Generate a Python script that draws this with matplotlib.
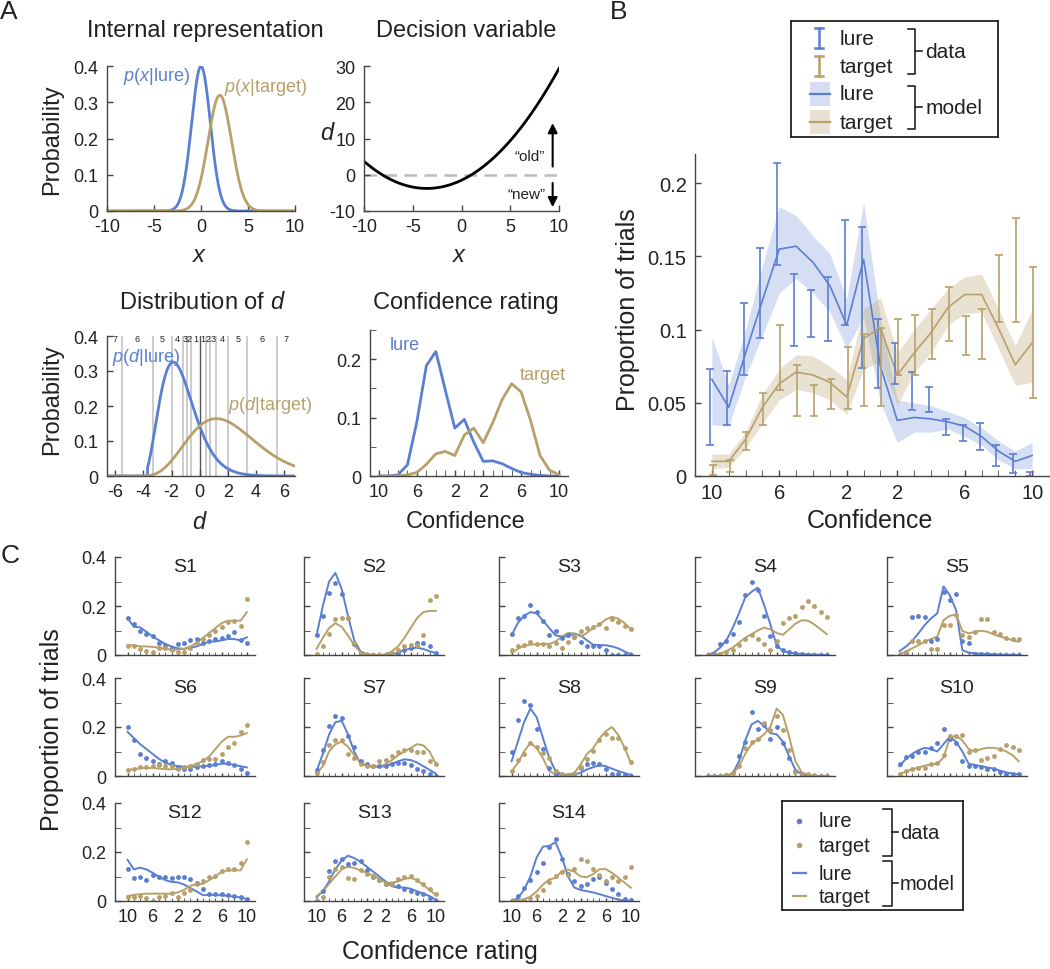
import matplotlib
matplotlib.use('Agg')
import matplotlib.pyplot as plt
import numpy as np

plt.rcParams['font.family'] = 'Liberation Sans'
plt.rcParams['mathtext.fontset'] = 'custom'
plt.rcParams['mathtext.it'] = 'Liberation Sans:italic'
plt.rcParams['mathtext.rm'] = 'Liberation Sans'
plt.rcParams['axes.unicode_minus'] = False

BLUE = '#5b7fd0'
TAN = '#b8a06a'
AXC = '#444444'
TXT = '#222222'

# ---- panel A: generative model parameters
lure_mu, lure_sd = 0.0, 1.0
target_mu, target_sd = 2.0, 1.25
d_thresholds = [-5.5, -3.35, -1.95, -1.2, -0.9, -0.6, 0.0, 0.45, 0.75, 1.15, 2.05, 3.4, 5.5]
d_bin_labels = ['7', '6', '5', '4', '3', '2', '1', '1', '2', '3', '4', '5', '6', '7']

# confidence bins: 10..1 "new" then 1..10 "old"
conf_pos = np.arange(1, 21)
conf_tick_pos = [1, 5, 9, 12, 16, 20]
conf_tick_labels = ['10', '6', '2', '2', '6', '10']

a_conf_lure = [0.0, 0.0, 0.002, 0.019, 0.093, 0.189, 0.213, 0.147, 0.082, 0.097,
               0.058, 0.025, 0.026, 0.021, 0.013, 0.006, 0.003, 0.001, 0.0, 0.0]
a_conf_target = [0.0, 0.0, 0.0, 0.002, 0.006, 0.02, 0.038, 0.042, 0.035, 0.07,
                 0.082, 0.057, 0.091, 0.131, 0.158, 0.144, 0.095, 0.035, 0.01, 0.002]

# ---- panel B: group data (error bars) and model (mean line, band)
b_lure_lo = [0.021, 0.035, 0.069, 0.094, 0.144, 0.089, 0.095, 0.092, 0.103, 0.074,
             0.060, 0.063, 0.045, 0.044, 0.028, 0.024, 0.018, 0.007, 0.002, 0.000]
b_lure_hi = [0.073, 0.072, 0.118, 0.156, 0.214, 0.138, 0.127, 0.136, 0.175, 0.170,
             0.107, 0.091, 0.071, 0.061, 0.039, 0.035, 0.036, 0.021, 0.015, 0.003]
b_target_lo = [0.001, 0.003, 0.018, 0.035, 0.059, 0.041, 0.041, 0.046, 0.046, 0.048,
               0.048, 0.069, 0.069, 0.080, 0.092, 0.083, 0.080, 0.105, 0.105, 0.053]
b_target_hi = [0.0075, 0.011, 0.030, 0.057, 0.103, 0.076, 0.062, 0.066, 0.088, 0.097,
               0.101, 0.107, 0.110, 0.114, 0.129, 0.109, 0.114, 0.151, 0.176, 0.143]
b_lure_model = [0.066, 0.047, 0.084, 0.120, 0.155, 0.157, 0.146, 0.130, 0.103, 0.148,
                0.075, 0.038, 0.040, 0.039, 0.037, 0.034, 0.027, 0.017, 0.010, 0.014]
b_lure_band_lo = [0.035, 0.034, 0.068, 0.096, 0.125, 0.135, 0.125, 0.112, 0.087, 0.109,
                  0.050, 0.023, 0.030, 0.030, 0.032, 0.027, 0.021, 0.011, 0.005, 0.005]
b_lure_band_hi = [0.095, 0.062, 0.100, 0.144, 0.184, 0.178, 0.164, 0.152, 0.121, 0.187,
                  0.107, 0.052, 0.050, 0.048, 0.044, 0.040, 0.033, 0.024, 0.017, 0.023]
b_target_model = [0.010, 0.010, 0.025, 0.047, 0.063, 0.071, 0.069, 0.064, 0.054, 0.094,
                  0.101, 0.069, 0.084, 0.098, 0.115, 0.124, 0.124, 0.101, 0.076, 0.091]
b_target_band_lo = [0.005, 0.006, 0.019, 0.036, 0.052, 0.059, 0.057, 0.052, 0.042, 0.073,
                    0.078, 0.048, 0.071, 0.084, 0.103, 0.111, 0.112, 0.087, 0.062, 0.064]
b_target_band_hi = [0.015, 0.015, 0.030, 0.056, 0.073, 0.083, 0.082, 0.075, 0.066, 0.114,
                    0.122, 0.084, 0.100, 0.114, 0.128, 0.136, 0.138, 0.114, 0.089, 0.114]

# ---- panel C: individual subjects
c_names = ['S1', 'S2', 'S3', 'S4', 'S5', 'S6', 'S7', 'S8', 'S9', 'S10', 'S12', 'S13', 'S14']
c_lure_data = [
    [0.15, 0.125, 0.097, 0.086, 0.078, 0.05, 0.04, 0.027, 0.045, 0.047, 0.062, 0.065, 0.047, 0.057, 0.065, 0.068, 0.077, 0.092, 0.06, 0.05],
    [0.08, 0.16, 0.255, 0.295, 0.25, 0.15, 0.045, 0.01, 0.0, 0.0, 0.0, 0.0, 0.005, 0.01, 0.02, 0.03, 0.05, 0.05, 0.035, 0.01],
    [0.085, 0.15, 0.16, 0.205, 0.175, 0.14, 0.08, 0.1, 0.068, 0.08, 0.075, 0.055, 0.038, 0.038, 0.038, 0.02, 0.0, 0.0, 0.0, 0.0],
    [0.0, 0.005, 0.045, 0.057, 0.087, 0.136, 0.244, 0.296, 0.264, 0.16, 0.077, 0.038, 0.02, 0.014, 0.007, 0.003, 0.002, 0.0, 0.0, 0.0],
    [0.0, 0.01, 0.155, 0.16, 0.155, 0.057, 0.065, 0.258, 0.225, 0.25, 0.057, 0.047, 0.003, 0.003, 0.003, 0.002, 0.002, 0.0, 0.0, 0.0],
    [0.2, 0.145, 0.09, 0.075, 0.06, 0.05, 0.06, 0.055, 0.035, 0.03, 0.03, 0.035, 0.04, 0.045, 0.05, 0.06, 0.055, 0.045, 0.028, 0.013],
    [0.025, 0.105, 0.205, 0.245, 0.235, 0.165, 0.12, 0.06, 0.047, 0.04, 0.04, 0.04, 0.047, 0.053, 0.053, 0.045, 0.03, 0.02, 0.007, 0.0],
    [0.1, 0.23, 0.305, 0.29, 0.19, 0.11, 0.033, 0.007, 0.005, 0.003, 0.01, 0.033, 0.05, 0.053, 0.047, 0.03, 0.01, 0.007, 0.003, 0.0],
    [0.0, 0.0, 0.0, 0.005, 0.013, 0.08, 0.14, 0.263, 0.193, 0.207, 0.153, 0.2, 0.133, 0.073, 0.02, 0.007, 0.002, 0.0, 0.0, 0.0],
    [0.047, 0.076, 0.08, 0.096, 0.1, 0.116, 0.133, 0.193, 0.151, 0.136, 0.06, 0.04, 0.04, 0.035, 0.03, 0.027, 0.016, 0.01, 0.007, 0.007],
    [0.132, 0.094, 0.1, 0.085, 0.105, 0.1, 0.1, 0.094, 0.097, 0.097, 0.09, 0.075, 0.05, 0.03, 0.028, 0.028, 0.025, 0.021, 0.015, 0.008],
    [0.0, 0.04, 0.122, 0.165, 0.172, 0.15, 0.157, 0.164, 0.125, 0.1, 0.085, 0.069, 0.069, 0.062, 0.05, 0.042, 0.032, 0.028, 0.014, 0.0],
    [0.0, 0.02, 0.053, 0.085, 0.118, 0.157, 0.22, 0.255, 0.17, 0.11, 0.08, 0.06, 0.068, 0.088, 0.1, 0.073, 0.05, 0.027, 0.01, 0.003],
]
c_target_data = [
    [0.038, 0.038, 0.024, 0.016, 0.014, 0.027, 0.027, 0.02, 0.014, 0.014, 0.03, 0.047, 0.065, 0.08, 0.1, 0.115, 0.135, 0.14, 0.12, 0.23],
    [0.005, 0.035, 0.085, 0.145, 0.15, 0.15, 0.05, 0.01, 0.0, 0.0, 0.0, 0.0, 0.01, 0.02, 0.035, 0.04, 0.04, 0.08, 0.225, 0.24],
    [0.02, 0.035, 0.04, 0.052, 0.045, 0.045, 0.035, 0.047, 0.028, 0.055, 0.072, 0.098, 0.112, 0.115, 0.128, 0.112, 0.145, 0.133, 0.12, 0.108],
    [0.0, 0.0, 0.005, 0.012, 0.02, 0.04, 0.065, 0.08, 0.065, 0.045, 0.02, 0.058, 0.13, 0.15, 0.16, 0.195, 0.222, 0.2, 0.175, 0.155],
    [0.0, 0.014, 0.057, 0.057, 0.057, 0.024, 0.024, 0.122, 0.122, 0.165, 0.081, 0.075, 0.095, 0.145, 0.145, 0.095, 0.084, 0.07, 0.064, 0.064],
    [0.025, 0.028, 0.035, 0.035, 0.04, 0.045, 0.04, 0.04, 0.03, 0.035, 0.04, 0.05, 0.065, 0.07, 0.07, 0.09, 0.12, 0.135, 0.18, 0.21],
    [0.013, 0.057, 0.125, 0.145, 0.145, 0.09, 0.073, 0.047, 0.04, 0.04, 0.06, 0.067, 0.08, 0.1, 0.107, 0.107, 0.1, 0.1, 0.06, 0.047],
    [0.02, 0.067, 0.09, 0.133, 0.12, 0.093, 0.073, 0.02, 0.007, 0.005, 0.01, 0.036, 0.07, 0.103, 0.147, 0.17, 0.156, 0.156, 0.116, 0.057],
    [0.0, 0.0, 0.0, 0.005, 0.013, 0.04, 0.116, 0.14, 0.153, 0.215, 0.187, 0.245, 0.187, 0.107, 0.016, 0.007, 0.007, 0.003, 0.0, 0.0],
    [0.007, 0.02, 0.027, 0.033, 0.033, 0.047, 0.053, 0.087, 0.163, 0.163, 0.167, 0.1, 0.107, 0.064, 0.073, 0.08, 0.11, 0.127, 0.12, 0.107],
    [0.015, 0.015, 0.021, 0.011, 0.0, 0.015, 0.021, 0.032, 0.018, 0.032, 0.045, 0.069, 0.08, 0.099, 0.104, 0.122, 0.129, 0.13, 0.154, 0.24],
    [0.0, 0.018, 0.099, 0.129, 0.14, 0.094, 0.09, 0.125, 0.112, 0.104, 0.085, 0.069, 0.069, 0.09, 0.1, 0.104, 0.085, 0.069, 0.049, 0.028],
    [0.0, 0.0, 0.004, 0.011, 0.021, 0.046, 0.076, 0.104, 0.118, 0.105, 0.13, 0.173, 0.163, 0.13, 0.108, 0.082, 0.1, 0.08, 0.1, 0.14],
]
c_lure_model = [
    [0.15, 0.115, 0.113, 0.095, 0.075, 0.06, 0.045, 0.035, 0.027, 0.025, 0.03, 0.035, 0.045, 0.055, 0.055, 0.06, 0.065, 0.065, 0.06, 0.072],
    [0.08, 0.2, 0.3, 0.335, 0.27, 0.16, 0.06, 0.015, 0.003, 0.0, 0.0, 0.0, 0.002, 0.01, 0.02, 0.027, 0.03, 0.025, 0.015, 0.008],
    [0.08, 0.13, 0.16, 0.175, 0.17, 0.14, 0.11, 0.08, 0.075, 0.077, 0.088, 0.08, 0.06, 0.042, 0.04, 0.04, 0.035, 0.027, 0.014, 0.003],
    [0.0, 0.01, 0.03, 0.06, 0.11, 0.17, 0.235, 0.258, 0.275, 0.205, 0.125, 0.04, 0.016, 0.01, 0.006, 0.004, 0.003, 0.002, 0.001, 0.0],
    [0.016, 0.034, 0.057, 0.088, 0.122, 0.149, 0.17, 0.28, 0.244, 0.183, 0.02, 0.01, 0.007, 0.005, 0.004, 0.003, 0.002, 0.001, 0.001, 0.0],
    [0.18, 0.155, 0.13, 0.11, 0.09, 0.07, 0.055, 0.045, 0.04, 0.038, 0.038, 0.038, 0.04, 0.042, 0.045, 0.05, 0.05, 0.045, 0.04, 0.035],
    [0.02, 0.09, 0.17, 0.22, 0.225, 0.17, 0.1, 0.05, 0.042, 0.038, 0.038, 0.04, 0.05, 0.06, 0.068, 0.065, 0.055, 0.04, 0.025, 0.01],
    [0.06, 0.14, 0.22, 0.275, 0.24, 0.155, 0.075, 0.02, 0.007, 0.005, 0.007, 0.013, 0.027, 0.036, 0.044, 0.04, 0.03, 0.02, 0.012, 0.004],
    [0.0, 0.0, 0.0, 0.002, 0.01, 0.06, 0.145, 0.21, 0.225, 0.205, 0.175, 0.17, 0.14, 0.08, 0.025, 0.007, 0.002, 0.0, 0.0, 0.0],
    [0.04, 0.07, 0.09, 0.105, 0.115, 0.11, 0.1, 0.13, 0.16, 0.14, 0.1, 0.05, 0.045, 0.04, 0.035, 0.03, 0.022, 0.015, 0.01, 0.006],
    [0.168, 0.129, 0.136, 0.129, 0.115, 0.099, 0.085, 0.078, 0.076, 0.067, 0.053, 0.039, 0.024, 0.024, 0.025, 0.023, 0.021, 0.018, 0.014, 0.008],
    [0.015, 0.04, 0.08, 0.13, 0.165, 0.185, 0.175, 0.16, 0.14, 0.12, 0.1, 0.08, 0.06, 0.055, 0.055, 0.05, 0.04, 0.03, 0.02, 0.005],
    [0.0, 0.011, 0.046, 0.1, 0.178, 0.222, 0.225, 0.24, 0.18, 0.1, 0.055, 0.045, 0.04, 0.035, 0.028, 0.02, 0.013, 0.006, 0.002, 0.0],
]
c_target_model = [
    [0.04, 0.04, 0.035, 0.035, 0.033, 0.03, 0.025, 0.022, 0.022, 0.025, 0.035, 0.05, 0.07, 0.09, 0.11, 0.13, 0.14, 0.14, 0.14, 0.175],
    [0.025, 0.07, 0.11, 0.13, 0.115, 0.08, 0.04, 0.012, 0.003, 0.0, 0.0, 0.003, 0.015, 0.035, 0.07, 0.11, 0.15, 0.175, 0.18, 0.18],
    [0.008, 0.025, 0.038, 0.042, 0.044, 0.045, 0.045, 0.055, 0.075, 0.09, 0.088, 0.075, 0.09, 0.11, 0.125, 0.145, 0.156, 0.148, 0.13, 0.106],
    [0.0, 0.002, 0.006, 0.015, 0.03, 0.05, 0.07, 0.085, 0.1, 0.112, 0.105, 0.09, 0.082, 0.105, 0.128, 0.142, 0.14, 0.125, 0.105, 0.085],
    [0.003, 0.014, 0.027, 0.04, 0.054, 0.065, 0.075, 0.142, 0.16, 0.165, 0.098, 0.088, 0.095, 0.099, 0.095, 0.084, 0.075, 0.068, 0.06, 0.054],
    [0.025, 0.028, 0.032, 0.033, 0.033, 0.03, 0.028, 0.027, 0.03, 0.033, 0.04, 0.05, 0.06, 0.08, 0.11, 0.14, 0.16, 0.16, 0.165, 0.175],
    [0.01, 0.04, 0.1, 0.13, 0.14, 0.12, 0.085, 0.055, 0.042, 0.038, 0.04, 0.048, 0.065, 0.085, 0.1, 0.115, 0.13, 0.125, 0.1, 0.05],
    [0.02, 0.053, 0.1, 0.136, 0.113, 0.073, 0.02, 0.007, 0.004, 0.005, 0.013, 0.047, 0.09, 0.113, 0.153, 0.183, 0.2, 0.167, 0.116, 0.053],
    [0.0, 0.0, 0.0, 0.002, 0.008, 0.04, 0.09, 0.13, 0.15, 0.17, 0.2, 0.275, 0.25, 0.16, 0.06, 0.015, 0.004, 0.001, 0.0, 0.0],
    [0.007, 0.018, 0.027, 0.035, 0.042, 0.047, 0.05, 0.075, 0.155, 0.165, 0.145, 0.11, 0.1, 0.11, 0.115, 0.115, 0.11, 0.1, 0.085, 0.06],
    [0.02, 0.025, 0.028, 0.03, 0.03, 0.03, 0.03, 0.03, 0.035, 0.045, 0.062, 0.068, 0.07, 0.085, 0.1, 0.12, 0.125, 0.125, 0.125, 0.17],
    [0.02, 0.04, 0.07, 0.1, 0.13, 0.14, 0.135, 0.125, 0.115, 0.105, 0.09, 0.075, 0.075, 0.08, 0.09, 0.095, 0.085, 0.065, 0.045, 0.025],
    [0.0, 0.003, 0.007, 0.018, 0.039, 0.067, 0.088, 0.094, 0.122, 0.128, 0.12, 0.1, 0.097, 0.11, 0.13, 0.13, 0.115, 0.095, 0.075, 0.054],
]

W, H = 1050, 970
fig = plt.figure(figsize=(W / 100, H / 100), dpi=100)


def box(x0, y0, x1, y1):
    # pixel box (top-left origin) -> figure fraction rect
    return [x0 / W, 1 - y1 / H, (x1 - x0) / W, (y1 - y0) / H]


def ftext(x, y, s, **kw):
    kw.setdefault('color', TXT)
    fig.text(x / W, 1 - y / H, s, **kw)


def style(ax, size=13):
    for s in ['top', 'right']:
        ax.spines[s].set_visible(False)
    for s in ['left', 'bottom']:
        ax.spines[s].set_color(AXC)
        ax.spines[s].set_linewidth(1.0)
    ax.tick_params(direction='in', length=4, width=1, color=AXC,
                   labelcolor=TXT, labelsize=size)
    ax.tick_params(axis='y', pad=6)
    ax.tick_params(axis='x', pad=5)


def conf_axis(ax, labels=True):
    ax.set_xticks(conf_pos, minor=True)
    ax.set_xticks(conf_tick_pos)
    ax.set_xticklabels(conf_tick_labels if labels else [])
    ax.tick_params(axis='x', which='minor', direction='in', length=4, color=AXC)


def gauss(x, mu, sd):
    return np.exp(-(x - mu) ** 2 / (2 * sd ** 2)) / (sd * np.sqrt(2 * np.pi))


# decision variable d(x) = log p(x|target) - log p(x|lure) = qa x^2 + qb x + qc
qa = 1 / (2 * lure_sd ** 2) - 1 / (2 * target_sd ** 2)
qb = target_mu / target_sd ** 2 - lure_mu / lure_sd ** 2
qc = lure_mu ** 2 / (2 * lure_sd ** 2) - target_mu ** 2 / (2 * target_sd ** 2) + np.log(lure_sd / target_sd)


def p_of_d(d, mu, sd):
    disc = qb ** 2 - 4 * qa * (qc - d)
    out = np.zeros_like(d)
    ok = disc > 0.05
    r = np.sqrt(disc[ok])
    x1 = (-qb + r) / (2 * qa)
    x2 = (-qb - r) / (2 * qa)
    out[ok] = (gauss(x1, mu, sd) + gauss(x2, mu, sd)) / r
    return out


def bracket(lax, x0, x1, y0, y1):
    ym = (y0 + y1) / 2
    lax.plot([x0, x1, x1, x0], [y1, y1, y0, y0], color=TXT, lw=1.2)
    lax.plot([x1, x1 + 0.035], [ym, ym], color=TXT, lw=1.2)


def legend_axes(rect):
    lax = fig.add_axes(rect)
    lax.set_xlim(0, 1)
    lax.set_ylim(0, 1)
    lax.set_xticks([])
    lax.set_yticks([])
    for s in lax.spines.values():
        s.set_color('#222222')
        s.set_linewidth(1.3)
    return lax


# ---------------- A1: internal representation
ax = fig.add_axes(box(107, 67, 295, 212))
style(ax)
xs = np.linspace(-10, 10, 801)
ax.plot(xs, gauss(xs, lure_mu, lure_sd), color=BLUE, lw=2)
ax.plot(xs, gauss(xs, target_mu, target_sd), color=TAN, lw=2)
ax.set_xlim(-10, 10)
ax.set_ylim(0, 0.4)
ax.set_xticks([-10, -5, 0, 5, 10])
ax.set_yticks([0, 0.1, 0.2, 0.3, 0.4])
ax.set_yticklabels(['0', '0.1', '0.2', '0.3', '0.4'])
ftext(157, 77, r'$p$($x$|lure)', color=BLUE, fontsize=13, ha='center', va='center')
ftext(266, 87, r'$p$($x$|target)', color=TAN, fontsize=13, ha='center', va='center')
ftext(52, 140, 'Probability', fontsize=17, rotation=90, ha='center', va='center')
ftext(200, 256, r'$x$', fontsize=17, ha='center', va='center')
ftext(205, 31, 'Internal representation', fontsize=17, ha='center', va='center')

# ---------------- A2: decision variable
ax = fig.add_axes(box(364, 67, 559, 212))
style(ax)
ax.plot(xs, qa * xs ** 2 + qb * xs + qc, color='black', lw=2)
ax.axhline(0, color='#bbbbbb', lw=1.8, ls=(0, (5, 3)), zorder=0)
ax.annotate('', xy=(9.35, 15), xytext=(9.35, 1.5),
            arrowprops=dict(arrowstyle='-|>', color='black', lw=1.5, mutation_scale=14))
ax.annotate('', xy=(9.35, -9.7), xytext=(9.35, -1.5),
            arrowprops=dict(arrowstyle='-|>', color='black', lw=1.5, mutation_scale=14))
ax.text(8.6, 5.3, '\u201cold\u201d', fontsize=11, ha='right', va='center', color=TXT)
ax.text(8.6, -5.4, '\u201cnew\u201d', fontsize=11, ha='right', va='center', color=TXT)
ax.set_xlim(-10, 10)
ax.set_ylim(-10, 30)
ax.set_xticks([-10, -5, 0, 5, 10])
ax.set_yticks([-10, 0, 10, 20, 30])
ftext(328, 134, r'$d$', fontsize=17, ha='center', va='center')
ftext(460, 256, r'$x$', fontsize=17, ha='center', va='center')
ftext(466, 31, 'Decision variable', fontsize=17, ha='center', va='center')

# ---------------- A3: distribution of d
ax = fig.add_axes(box(107, 337, 295, 477))
style(ax)
d_lo, d_hi = -6.6, 6.8
ds = np.linspace(d_lo, d_hi, 1201)
for t in d_thresholds:
    if t == 0:
        ax.axvline(t, color='#555555', lw=1.0, zorder=0)
    else:
        ax.axvline(t, color='#c8c8c8', lw=1.3, zorder=0)
edges = [d_lo] + d_thresholds + [d_hi]
for k, lab in enumerate(d_bin_labels):
    ax.text((edges[k] + edges[k + 1]) / 2, 0.392, lab, fontsize=6.5,
            ha='center', va='center', color=TXT)
ax.plot(ds, p_of_d(ds, lure_mu, lure_sd), color=BLUE, lw=2)
ax.plot(ds, p_of_d(ds, target_mu, target_sd), color=TAN, lw=2)
ax.set_xlim(d_lo, d_hi)
ax.set_ylim(0, 0.4)
ax.set_xticks([-6, -4, -2, 0, 2, 4, 6])
ax.set_yticks([0, 0.1, 0.2, 0.3, 0.4])
ax.set_yticklabels(['0', '0.1', '0.2', '0.3', '0.4'])
ftext(146, 358, r'$p$($d$|lure)', color=BLUE, fontsize=13, ha='center', va='center')
ftext(270, 406, r'$p$($d$|target)', color=TAN, fontsize=13, ha='center', va='center')
ftext(52, 400, 'Probability', fontsize=17, rotation=90, ha='center', va='center')
ftext(200, 523, r'$d$', fontsize=17, ha='center', va='center')
ftext(202, 303, r'Distribution of $d$', fontsize=17, ha='center', va='center')

# ---------------- A4: confidence rating
ax = fig.add_axes(box(370, 331, 568, 477))
style(ax)
ax.plot(conf_pos, a_conf_lure, color=BLUE, lw=2)
ax.plot(conf_pos, a_conf_target, color=TAN, lw=2)
ax.set_xlim(0.05, 20.95)
ax.set_ylim(0, 0.25)
conf_axis(ax)
ax.set_yticks([0, 0.1, 0.2])
ax.set_yticklabels(['0', '0.1', '0.2'])
ax.set_yticks([0.05, 0.15, 0.25], minor=True)
ax.tick_params(axis='y', which='minor', direction='in', length=4, color=AXC)
ftext(405, 346, 'lure', color=BLUE, fontsize=13, ha='center', va='center')
ftext(543, 376, 'target', color=TAN, fontsize=13, ha='center', va='center')
ftext(466, 522, 'Confidence', fontsize=17, ha='center', va='center')
ftext(466, 303, 'Confidence rating', fontsize=17, ha='center', va='center')

# ---------------- B: group fit
ax = fig.add_axes(box(695, 155, 1049, 477))
style(ax, size=14.5)
ax.fill_between(conf_pos, b_lure_band_lo, b_lure_band_hi, color=BLUE, alpha=0.25, lw=0)
ax.fill_between(conf_pos, b_target_band_lo, b_target_band_hi, color=TAN, alpha=0.3, lw=0)
ax.plot(conf_pos, b_lure_model, color=BLUE, lw=1.2)
ax.plot(conf_pos, b_target_model, color=TAN, lw=1.2)
lo, hi = np.array(b_lure_lo), np.array(b_lure_hi)
mid = (lo + hi) / 2
ax.errorbar(conf_pos - 0.12, mid, yerr=[mid - lo, hi - mid], fmt='none',
            ecolor=BLUE, elinewidth=1.2, capsize=3, capthick=1.2)
lo, hi = np.array(b_target_lo), np.array(b_target_hi)
mid = (lo + hi) / 2
ax.errorbar(conf_pos + 0.05, mid, yerr=[mid - lo, hi - mid], fmt='none',
            ecolor=TAN, elinewidth=1.2, capsize=3, capthick=1.2)
ax.set_xlim(0, 21)
ax.set_ylim(0, 0.22)
conf_axis(ax)
ax.set_yticks([0, 0.05, 0.1, 0.15, 0.2])
ax.set_yticklabels(['0', '0.05', '0.1', '0.15', '0.2'])
ftext(628, 310, 'Proportion of trials', fontsize=18, rotation=90, ha='center', va='center')
ftext(870, 521, 'Confidence', fontsize=18, ha='center', va='center')

# legend for B
lax = legend_axes(box(791, 22, 998, 138))
rows = [0.853, 0.612, 0.371, 0.129]
for yy, c in zip(rows[:2], [BLUE, TAN]):
    lax.plot([0.135, 0.135], [yy - 0.09, yy + 0.09], color=c, lw=1.8)
    lax.plot([0.115, 0.155], [yy + 0.09, yy + 0.09], color=c, lw=1.8)
    lax.plot([0.115, 0.155], [yy - 0.09, yy - 0.09], color=c, lw=1.8)
for yy, c, al in zip(rows[2:], [BLUE, TAN], [0.25, 0.3]):
    lax.fill_between([0.09, 0.19], yy - 0.1, yy + 0.1, color=c, alpha=al, lw=0)
    lax.plot([0.09, 0.19], [yy, yy], color=c, lw=1.6)
for yy, s in zip(rows, ['lure', 'target', 'lure', 'target']):
    lax.text(0.237, yy, s, fontsize=15, va='center', ha='left', color=TXT)
bracket(lax, 0.565, 0.6, 0.545, 0.93)
bracket(lax, 0.565, 0.6, 0.07, 0.44)
lax.text(0.65, 0.737, 'data', fontsize=15, va='center', ha='left', color=TXT)
lax.text(0.65, 0.255, 'model', fontsize=15, va='center', ha='left', color=TXT)

# ---------------- C: individual subjects
col_x = [115, 304, 499, 695, 887]
row_y = [558, 679, 804]
cw, ch = 140, 98
for k, name in enumerate(c_names):
    r, c = divmod(k, 5)
    ax = fig.add_axes(box(col_x[c], row_y[r], col_x[c] + cw, row_y[r] + ch))
    style(ax, size=13)
    ax.plot(conf_pos, c_lure_model[k], color=BLUE, lw=1.4)
    ax.plot(conf_pos, c_target_model[k], color=TAN, lw=1.4)
    ax.plot(conf_pos, c_lure_data[k], 'o', color=BLUE, ms=3.5, mec='none')
    ax.plot(conf_pos, c_target_data[k], 'o', color=TAN, ms=3.5, mec='none')
    ax.set_xlim(-1, 21.3)
    ax.set_ylim(0, 0.4)
    conf_axis(ax, labels=(r == 2))
    ax.tick_params(axis='x', which='both', length=2.5)
    ax.set_yticks([0, 0.2, 0.4])
    ax.set_yticks([0.1, 0.3], minor=True)
    ax.tick_params(axis='y', which='minor', direction='in', length=4, color=AXC)
    if c == 0:
        ax.set_yticklabels(['0', '0.2', '0.4'])
    else:
        ax.set_yticklabels([])
    ax.text(0.5, 0.9, name, transform=ax.transAxes, fontsize=14,
            ha='center', va='center', color=TXT)

ftext(52, 730, 'Proportion of trials', fontsize=18, rotation=90, ha='center', va='center')
ftext(440, 952, 'Confidence rating', fontsize=18, ha='center', va='center')

# legend for C
lax = legend_axes(box(782, 802, 963, 911))
rows = [0.817, 0.596, 0.339, 0.128]
lax.plot([0.094], [rows[0]], 'o', color=BLUE, ms=4, mec='none')
lax.plot([0.094], [rows[1]], 'o', color=TAN, ms=4, mec='none')
lax.plot([0.06, 0.13], [rows[2], rows[2]], color=BLUE, lw=1.6)
lax.plot([0.06, 0.13], [rows[3], rows[3]], color=TAN, lw=1.6)
for yy, s in zip(rows, ['lure', 'target', 'lure', 'target']):
    lax.text(0.204, yy, s, fontsize=14.5, va='center', ha='left', color=TXT)
bracket(lax, 0.56, 0.605, 0.5, 0.93)
bracket(lax, 0.56, 0.605, 0.04, 0.45)
lax.text(0.652, 0.715, 'data', fontsize=14.5, va='center', ha='left', color=TXT)
lax.text(0.652, 0.245, 'model', fontsize=14.5, va='center', ha='left', color=TXT)

# panel letters
ftext(9, 12, 'A', fontsize=19, ha='center', va='center')
ftext(619, 12, 'B', fontsize=19, ha='center', va='center')
ftext(10, 556, 'C', fontsize=19, ha='center', va='center')

fig.savefig('out.png', dpi=100)
